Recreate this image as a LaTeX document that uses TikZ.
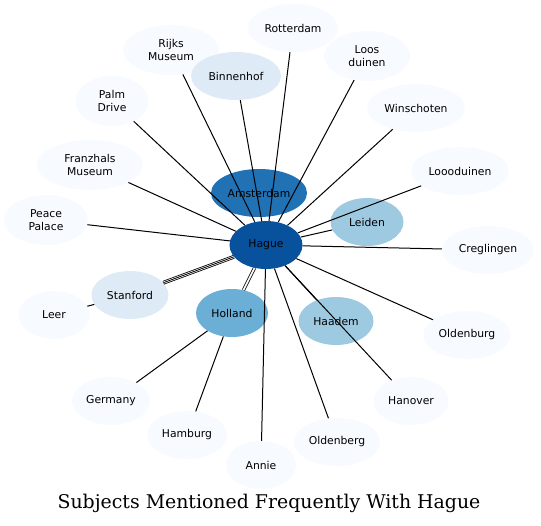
\documentclass[tikz,border=0pt]{standalone}
\usepackage{fontspec}
\setmainfont{DejaVu Sans}
\newfontfamily\titlefont{DejaVu Serif}
\usetikzlibrary{shapes.geometric}
\definecolor{blue0}{HTML}{F7FBFF}
\definecolor{blue1}{HTML}{DEEBF7}
\definecolor{blue3}{HTML}{9ECAE1}
\definecolor{blue4}{HTML}{6BAED6}
\definecolor{blue5}{HTML}{2171B5}
\definecolor{blue6}{HTML}{08519C}
\begin{document}
\begin{tikzpicture}[x=1pt,y=-1pt,
  subject/.style={ellipse, fill=#1, draw=none, minimum height=48pt, inner sep=0pt,
    align=center, font=\fontsize{10.8}{12.5}\selectfont},
  subject/.default=blue0,
  link/.style={line width=1pt}]
  \useasboundingbox (0,0) rectangle (541,525);
  \node[subject, minimum width=90pt] (rotterdam) at (293,28) {Rotterdam};
  \node[subject, minimum width=96pt, minimum height=50pt] (rijks) at (171,50) {Rijks\\Museum};
  \node[subject=blue1, minimum width=90pt] (binnenhof) at (236,76) {Binnenhof};
  \node[subject, minimum width=86pt, minimum height=50pt] (loos) at (367,56) {Loos\\duinen};
  \node[subject, minimum width=73pt, minimum height=50pt] (palm) at (112,101) {Palm\\Drive};
  \node[subject, minimum width=98pt] (winschoten) at (416,108) {Winschoten};
  \node[subject, minimum width=106pt, minimum height=50pt] (franzhals) at (90,165) {Franzhals\\Museum};
  \node[subject, minimum width=98pt] (loooduinen) at (460,171) {Loooduinen};
  \node[subject=blue5, minimum width=96pt] (amsterdam) at (259,193) {Amsterdam};
  \node[subject, minimum width=84pt, minimum height=50pt] (peace) at (46,220) {Peace\\Palace};
  \node[subject=blue3, minimum width=73pt] (leiden) at (367,222) {Leiden};
  \node[subject=blue6, minimum width=73pt] (hague) at (266,245) {Hague};
  \node[subject, minimum width=92pt] (creglingen) at (488,250) {Creglingen};
  \node[subject=blue1, minimum width=77pt] (stanford) at (130,295) {Stanford};
  \node[subject, minimum width=71pt] (leer) at (54,315) {Leer};
  \node[subject=blue4, minimum width=72pt] (holland) at (232,313) {Holland};
  \node[subject=blue3, minimum width=75pt] (haadem) at (336,321) {Haadem};
  \node[subject, minimum width=87pt] (oldenburg) at (467,335) {Oldenburg};
  \node[subject, minimum width=78pt] (germany) at (111,401) {Germany};
  \node[subject, minimum width=75pt] (hanover) at (411,401) {Hanover};
  \node[subject, minimum width=80pt] (hamburg) at (187,435) {Hamburg};
  \node[subject, minimum width=86pt] (oldenberg) at (337,442) {Oldenberg};
  \node[subject, minimum width=70pt] (annie) at (261,465) {Annie};
  \foreach \n in {rotterdam,rijks,binnenhof,loos,palm,winschoten,franzhals,loooduinen,
      peace,leiden,creglingen,haadem,oldenburg,hanover,oldenberg,annie}
    \draw[link] (hague) -- (\n);
  \draw[line width=0.8pt, double, double distance=2.2pt] (hague) -- (stanford);
  \draw[line width=0.8pt] (hague) -- (stanford);
  \draw[line width=0.8pt, double, double distance=1.6pt] (hague) -- (holland);
  \draw[link] (stanford) -- (leer);
  \draw[link] (holland) -- (germany);
  \draw[link] (holland) -- (hamburg);
  \node[font=\titlefont\fontsize{18.9}{21}\selectfont] (title) at (269,503) {Subjects Mentioned Frequently With Hague};
\end{tikzpicture}
\end{document}
